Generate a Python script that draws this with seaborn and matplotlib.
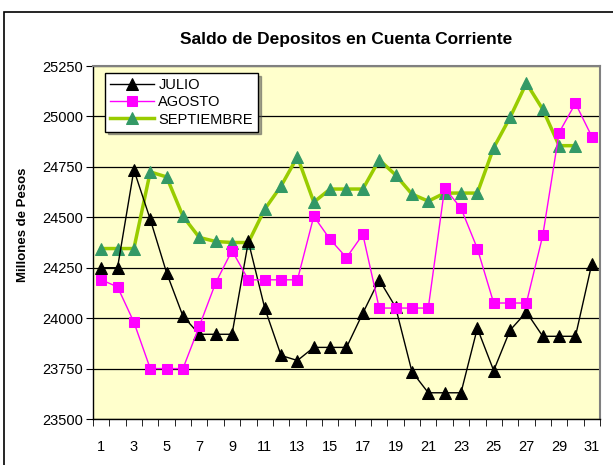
import numpy as np
import pandas as pd
import seaborn as sns
import matplotlib.pyplot as plt
from matplotlib.patches import Rectangle

# datos
dias = list(range(1, 32))
julio = [24250, 24250, 24735, 24490, 24225, 24010, 23920, 23920, 23920, 24380,
         24050, 23815, 23790, 23855, 23855, 23855, 24025, 24190, 24055, 23735,
         23630, 23630, 23630, 23950, 23740, 23940, 24030, 23910, 23910, 23910, 24270]
agosto = [24190, 24155, 23980, 23750, 23750, 23750, 23960, 24175, 24335, 24190,
          24190, 24190, 24190, 24505, 24390, 24300, 24415, 24050, 24050, 24050,
          24050, 24645, 24545, 24345, 24075, 24075, 24075, 24410, 24920, 25065, 24900]
septiembre = [24345, 24345, 24345, 24725, 24700, 24505, 24400, 24380, 24375, 24375,
              24540, 24655, 24800, 24575, 24640, 24640, 24640, 24785, 24710, 24615,
              24580, 24620, 24620, 24620, 24845, 24995, 25165, 25035, 24855, 24855]
yticks = list(range(23500, 25251, 250))

plt.rcParams['font.family'] = ['Liberation Sans', 'DejaVu Sans']

fig = plt.figure(figsize=(6.13, 4.65), dpi=100)
ax = fig.add_axes([93/613, 46/465, 507/613, 353/465])
ax.set_facecolor('#FFFFCC')

# borde exterior del grafico
fig.patches.append(Rectangle((4/613, -0.05), 1.0, 1 - 12/465 + 0.05, transform=fig.transFigure,
                             fill=False, edgecolor='black', linewidth=1.2))

for y in yticks:
    ax.axhline(y, color='black', linewidth=0.9, zorder=1)

sns.lineplot(x=dias, y=julio, ax=ax, color='black', linewidth=1, marker='^',
             markersize=9, markeredgecolor='black', markerfacecolor='black',
             label='JULIO', zorder=3)
sns.lineplot(x=dias, y=agosto, ax=ax, color='#FF00FF', linewidth=1, marker='s',
             markersize=7.5, markeredgecolor='#FF00FF', markerfacecolor='#FF00FF',
             label='AGOSTO', zorder=4)
sns.lineplot(x=dias[:len(septiembre)], y=septiembre, ax=ax, color='#99CC00', linewidth=2.5,
             marker='^', markersize=9, markeredgecolor='#339966', markerfacecolor='#339966',
             label='SEPTIEMBRE', zorder=2)

ax.set_xlim(0.5, 31.5)
ax.set_ylim(23500, 25250)
ax.set_yticks(yticks)
ax.set_yticklabels([str(v) for v in yticks], fontsize=10.5)
ax.set_xticks(dias[::2])
ax.set_xticklabels([str(d) for d in dias[::2]], fontsize=10.5)
ax.set_xticks(np.arange(0.5, 32, 1), minor=True)
ax.tick_params(axis='x', which='major', length=0, pad=15)
ax.tick_params(axis='x', which='minor', length=5, direction='out', color='black')
ax.tick_params(axis='y', length=5, direction='out', color='black', pad=2)

for s in ['top', 'right']:
    ax.spines[s].set_color('#808080')
    ax.spines[s].set_linewidth(1.5)
for s in ['left', 'bottom']:
    ax.spines[s].set_color('black')
    ax.spines[s].set_linewidth(1)

ax.set_xlabel('')
ax.set_ylabel('Millones de Pesos', fontsize=9.5, fontweight='bold')
ax.yaxis.set_label_coords(-0.127, 0.55)
ax.set_title('Saldo de Depositos en Cuenta Corriente', fontsize=12.5, fontweight='bold', pad=16)

leg = ax.legend(loc='upper left', bbox_to_anchor=(0.024, 0.98), fontsize=10.5,
                frameon=True, fancybox=False, shadow=True, borderpad=0.35,
                borderaxespad=0, labelspacing=0.22, handlelength=3.0, handletextpad=0.3)
leg.get_frame().set_edgecolor('black')
leg.get_frame().set_facecolor('white')
leg.get_frame().set_alpha(1)

fig.savefig('out.png', dpi=100)
